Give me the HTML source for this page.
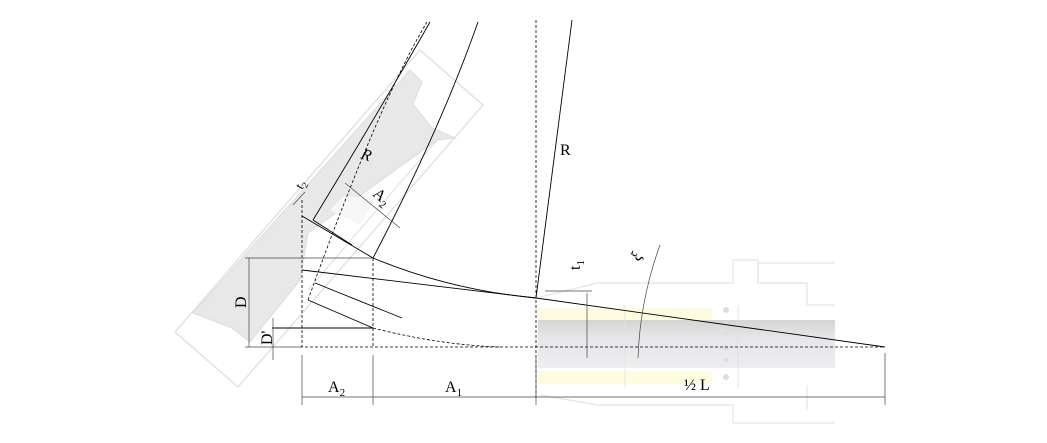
<!DOCTYPE html>
<html><head><style>html,body{margin:0;padding:0;background:#fff}svg{display:block}</style></head><body>
<svg width="1047" height="443" viewBox="0 0 1047 443" xmlns="http://www.w3.org/2000/svg" font-family="Liberation Serif, serif">
<defs>
<linearGradient id="g1" x1="0" y1="0" x2="0" y2="1"><stop offset="0" stop-color="#d4d4d4"/><stop offset="1" stop-color="#e6e6e6"/></linearGradient>
<linearGradient id="g2" x1="0" y1="0" x2="0" y2="1"><stop offset="0" stop-color="#e6e6ea"/><stop offset="1" stop-color="#eeeef0"/></linearGradient>
</defs>
<polygon points="175,332 238,387 483,105 420,50" fill="#fff" stroke="#e2e2e2" stroke-width="1.5"/>
<polygon points="193,313 410,70 422,82 413,104 432,128 455,138 437,140 308,233 300,280 250,342 232,328" fill="#e8e8e8" stroke="#dcdcdc"/>
<polygon points="330,210 345,195 375,200 360,225" fill="#f6f6f6"/>
<line x1="308" y1="290" x2="437" y2="140" stroke="#dedede"/>
<g fill="none" stroke="#e4e4e4" stroke-width="1.2">
<polyline points="540,297 598,283 733,283 733,260 758,260 758,263 835,263"/>
<polyline points="758,263 758,283 807,283 807,305 835,305"/>
<polyline points="540,395 598,405 733,405 733,423 835,423"/>
<line x1="807" y1="385" x2="807" y2="410"/>
</g>
<rect x="538" y="308" width="174" height="12" fill="#fdfbe0"/>
<rect x="538" y="320" width="297" height="18" fill="url(#g1)"/>
<rect x="538" y="338" width="297" height="30" fill="url(#g2)"/>
<rect x="538" y="371" width="174" height="13" fill="#fdfbe0"/>
<line x1="625" y1="305" x2="625" y2="388" stroke="#e4e4e4"/>
<line x1="738" y1="305" x2="738" y2="388" stroke="#e0e0e0"/>
<g fill="#dcdcdc"><circle cx="726" cy="310" r="3"/><circle cx="726" cy="323" r="2"/><circle cx="726" cy="333" r="2"/><circle cx="726" cy="348" r="2"/><circle cx="726" cy="360" r="2"/><circle cx="726" cy="377" r="3"/></g>
<g fill="none" stroke="#000" stroke-width="0.9">
<line x1="536" y1="298" x2="572" y2="20"/>
<line x1="536" y1="298" x2="885" y2="347"/>
<path d="M373,258 Q450,290 536,298"/>
<line x1="302" y1="270" x2="536" y2="298"/>
<path d="M373,258 Q440,130 478,22"/>
<path d="M313,220 Q380,110 430,22"/>
<line x1="302" y1="216" x2="373" y2="258"/>
<line x1="313" y1="220" x2="352" y2="245"/>
<line x1="315" y1="283" x2="402" y2="318"/>
<line x1="308" y1="300" x2="373" y2="328"/>
<line x1="272" y1="328" x2="373" y2="328"/>
</g>
<g fill="none" stroke="#000" stroke-width="0.8" stroke-dasharray="3,2">
<line x1="536" y1="20" x2="536" y2="400"/>
<line x1="302" y1="200" x2="302" y2="347"/>
<line x1="373" y1="258" x2="373" y2="347"/>
<line x1="300" y1="347" x2="885" y2="347"/>
<path d="M308,300 Q380,100 427,22"/>
<path d="M373,328 Q440,345 500,347"/>
</g>
<g fill="none" stroke="#444" stroke-width="0.7">
<line x1="302" y1="397" x2="885" y2="397"/>
<line x1="302" y1="355" x2="302" y2="405"/>
<line x1="373" y1="355" x2="373" y2="405"/>
<line x1="536" y1="355" x2="536" y2="405"/>
<line x1="885" y1="353" x2="885" y2="405"/>
<line x1="249" y1="258" x2="249" y2="347"/>
<line x1="245" y1="258" x2="372" y2="258"/>
<line x1="245" y1="347" x2="300" y2="347"/>
<line x1="273" y1="318" x2="273" y2="360"/>
<line x1="345" y1="183" x2="400" y2="228"/>
<line x1="293" y1="205" x2="305" y2="192"/>
<line x1="587" y1="293" x2="587" y2="358"/>
<line x1="545" y1="291" x2="592" y2="291"/>
<path d="M660,245 Q640,300 638,358"/>
</g>
<g font-size="16" fill="#000">
<text x="328" y="392">A<tspan font-size="11" dy="4">2</tspan></text>
<text x="445" y="392">A<tspan font-size="11" dy="4">1</tspan></text>
<text x="684" y="390">½ L</text>
<text x="560" y="155">R</text>
<text transform="translate(360,158) rotate(20)" font-style="italic">R</text>
<text transform="translate(372,195) rotate(40)">A<tspan font-size="11" dy="4">2</tspan></text>
<text transform="translate(246,308) rotate(-90)">D</text>
<text transform="translate(272,345) rotate(-90)">D'</text>
<text transform="translate(580,270) rotate(-90)">t<tspan font-size="11" dy="4">1</tspan></text>
<text transform="translate(302,190) rotate(-60)" font-size="13">t<tspan font-size="9" dy="3">2</tspan></text>
<text transform="translate(639,262) rotate(-60)" font-style="italic">ξ</text>
</g>
</svg>
</body></html>
